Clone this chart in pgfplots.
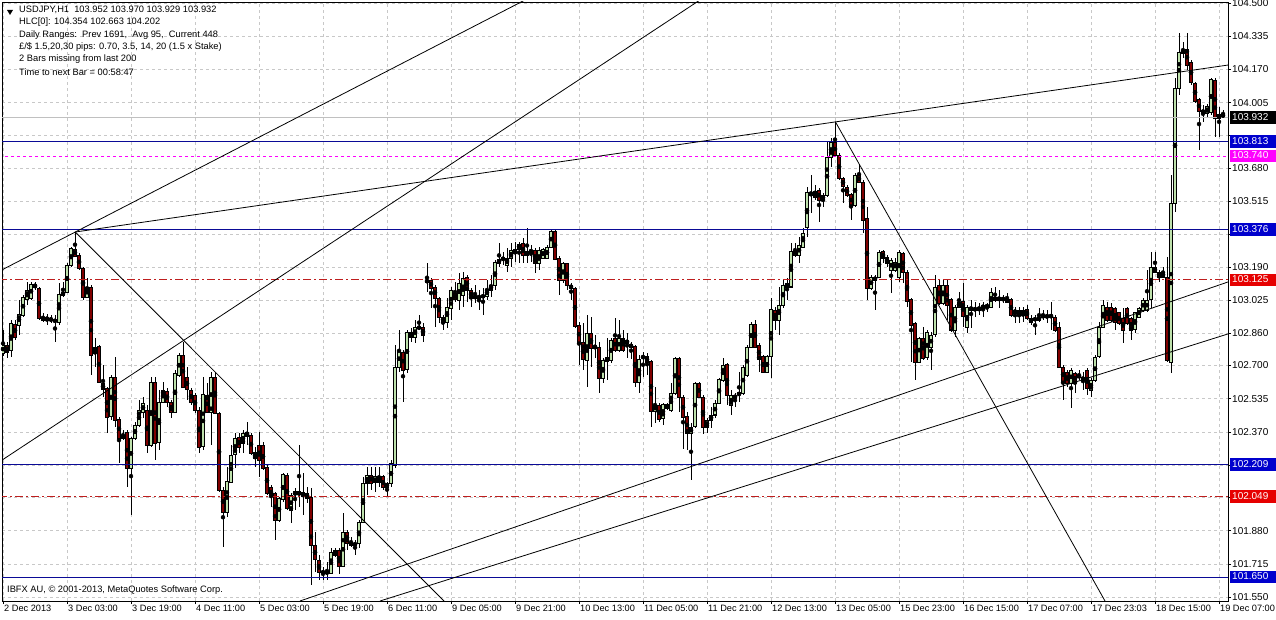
\documentclass[border=0pt]{standalone}
\usepackage{pgfplots}
\usepackage{pgfplotstable}
\pgfplotsset{compat=1.18}
\usepackage{fontspec}
\setmainfont{Liberation Sans}
\definecolor{upc}{RGB}{190,225,172}
\definecolor{dnc}{RGB}{128,0,0}
\definecolor{navyl}{RGB}{10,10,150}
\definecolor{boxblue}{RGB}{0,0,205}
\definecolor{boxred}{RGB}{230,0,0}
\definecolor{magl}{RGB}{255,0,255}
\definecolor{redl}{RGB}{190,30,30}
\definecolor{gridc}{RGB}{200,200,200}
\definecolor{bidc}{RGB}{192,192,192}

\pgfplotstableread{
i o h l c
0 102.762 102.877 102.747 102.802
1 102.802 102.817 102.738 102.767
2 102.777 102.926 102.743 102.911
3 102.906 102.926 102.827 102.842
4 102.901 103.026 102.852 102.956
5 102.951 103.050 102.941 103.040
6 103.026 103.115 103.001 103.075
7 103.035 103.115 103.026 103.105
8 103.105 103.115 103.075 103.090
9 103.085 103.090 102.926 102.936
10 102.941 102.961 102.916 102.926
11 102.926 102.956 102.901 102.941
12 102.931 102.951 102.911 102.926
13 102.921 102.951 102.817 102.926
14 102.916 103.110 102.901 103.055
15 103.050 103.115 103.040 103.065
16 103.065 103.209 103.060 103.199
17 103.199 103.289 103.189 103.284
18 103.279 103.363 103.239 103.244
19 103.244 103.259 103.174 103.184
20 103.184 103.189 103.026 103.040
21 103.040 103.135 103.035 103.090
22 103.090 103.100 102.653 102.752
23 102.762 102.837 102.693 102.792
24 102.797 102.802 102.613 102.618
25 102.613 102.703 102.544 102.579
26 102.589 102.594 102.365 102.445
27 102.445 102.653 102.430 102.643
28 102.643 102.743 102.395 102.430
29 102.435 102.445 102.216 102.340
30 102.355 102.380 102.330 102.340
31 102.370 102.380 102.097 102.191
32 102.191 102.345 101.958 102.340
33 102.340 102.420 102.330 102.405
34 102.405 102.529 102.395 102.479
35 102.469 102.544 102.440 102.514
36 102.479 102.504 102.266 102.306
37 102.306 102.643 102.296 102.618
38 102.618 102.643 102.231 102.316
39 102.316 102.579 102.281 102.519
40 102.519 102.618 102.514 102.579
41 102.574 102.589 102.494 102.519
42 102.519 102.529 102.440 102.469
43 102.469 102.678 102.464 102.663
44 102.653 102.762 102.643 102.752
45 102.752 102.817 102.589 102.594
46 102.643 102.693 102.529 102.579
47 102.579 102.589 102.504 102.519
48 102.554 102.564 102.464 102.479
49 102.479 102.494 102.266 102.296
50 102.296 102.643 102.281 102.554
51 102.554 102.613 102.464 102.469
52 102.469 102.668 102.306 102.643
53 102.643 102.668 102.464 102.464
54 102.464 102.469 102.072 102.082
55 102.082 102.097 101.799 101.968
56 101.968 102.196 101.948 102.122
57 102.122 102.306 102.117 102.256
58 102.256 102.365 102.191 102.340
59 102.345 102.365 102.266 102.296
60 102.316 102.380 102.266 102.365
61 102.370 102.420 102.306 102.350
62 102.355 102.365 102.256 102.266
63 102.241 102.296 102.196 102.271
64 102.306 102.370 102.147 102.231
65 102.306 102.320 102.181 102.191
66 102.196 102.206 102.057 102.067
67 102.097 102.107 101.998 102.048
68 102.067 102.072 101.834 101.933
69 101.933 102.048 101.923 102.043
70 102.033 102.167 102.023 102.157
71 102.157 102.167 101.983 101.993
72 101.983 102.067 101.918 102.057
73 102.057 102.092 101.983 102.072
74 102.057 102.306 101.998 102.072
75 102.072 102.167 101.958 102.048
76 102.067 102.097 102.018 102.043
77 102.043 102.092 101.611 101.809
78 101.809 101.874 101.675 101.735
79 101.735 101.759 101.635 101.675
80 101.680 101.700 101.635 101.670
81 101.670 101.725 101.635 101.675
82 101.670 101.794 101.670 101.774
83 101.759 101.794 101.750 101.784
84 101.784 101.794 101.665 101.705
85 101.705 101.968 101.700 101.874
86 101.874 101.884 101.784 101.819
87 101.824 101.849 101.799 101.809
88 101.809 101.834 101.759 101.819
89 101.819 101.933 101.794 101.923
90 101.923 102.147 101.918 102.117
91 102.117 102.196 102.057 102.157
92 102.157 102.196 102.082 102.117
93 102.117 102.196 102.072 102.147
94 102.147 102.196 102.097 102.117
95 102.147 102.157 102.082 102.092
96 102.117 102.122 102.048 102.097
97 102.117 102.231 102.097 102.216
98 102.206 102.802 102.191 102.693
99 102.693 102.877 102.668 102.777
100 102.767 102.777 102.519 102.678
101 102.678 102.877 102.663 102.862
102 102.842 102.887 102.817 102.867
103 102.842 102.926 102.812 102.887
104 102.887 102.951 102.877 102.891
105 102.891 102.911 102.817 102.852
106 103.125 103.209 103.065 103.115
107 103.125 103.135 102.986 103.085
108 103.090 103.100 102.891 103.035
109 103.035 103.040 102.911 102.941
110 102.941 102.951 102.877 102.916
111 102.916 103.035 102.887 102.991
112 102.986 103.090 102.926 103.075
113 103.060 103.115 103.016 103.026
114 103.026 103.159 102.976 103.110
115 103.050 103.164 102.991 103.135
116 103.140 103.150 103.016 103.075
117 103.075 103.085 102.991 103.035
118 103.045 103.100 103.011 103.035
119 103.035 103.075 102.976 103.045
120 103.040 103.085 102.951 103.050
121 103.045 103.125 103.026 103.080
122 103.075 103.150 103.040 103.100
123 103.100 103.224 103.075 103.214
124 103.209 103.308 103.189 103.229
125 103.229 103.264 103.199 103.234
126 103.199 103.284 103.164 103.234
127 103.234 103.308 103.189 103.274
128 103.259 103.313 103.214 103.279
129 103.279 103.313 103.209 103.303
130 103.308 103.333 103.209 103.249
131 103.249 103.383 103.209 103.269
132 103.274 103.298 103.214 103.264
133 103.274 103.284 103.159 103.209
134 103.209 103.289 103.174 103.274
135 103.234 103.284 103.229 103.279
136 103.234 103.298 103.229 103.289
137 103.289 103.373 103.284 103.368
138 103.368 103.378 103.224 103.229
139 103.234 103.244 103.050 103.125
140 103.125 103.214 103.110 103.209
141 103.209 103.209 103.075 103.100
142 103.100 103.110 103.026 103.085
143 103.085 103.090 102.887 102.896
144 102.901 102.916 102.703 102.812
145 102.812 102.911 102.678 102.728
146 102.728 102.951 102.594 102.862
147 102.862 102.941 102.693 102.787
148 102.797 102.852 102.738 102.787
149 102.792 102.817 102.564 102.638
150 102.638 102.738 102.613 102.728
151 102.723 102.837 102.628 102.738
152 102.728 102.837 102.713 102.827
153 102.837 102.936 102.767 102.777
154 102.777 102.926 102.767 102.837
155 102.837 102.877 102.767 102.777
156 102.812 102.862 102.738 102.827
157 102.807 102.817 102.733 102.792
158 102.797 102.802 102.594 102.618
159 102.618 102.752 102.564 102.733
160 102.738 102.767 102.643 102.747
161 102.747 102.762 102.653 102.713
162 102.718 102.728 102.395 102.474
163 102.474 102.594 102.415 102.504
164 102.504 102.514 102.420 102.435
165 102.435 102.514 102.405 102.509
166 102.509 102.514 102.479 102.489
167 102.479 102.613 102.469 102.564
168 102.564 102.743 102.554 102.738
169 102.738 102.743 102.469 102.544
170 102.544 102.554 102.286 102.445
171 102.445 102.469 102.281 102.365
172 102.365 102.415 102.132 102.395
173 102.395 102.618 102.390 102.613
174 102.613 102.618 102.539 102.544
175 102.544 102.554 102.360 102.395
176 102.395 102.440 102.365 102.430
177 102.430 102.494 102.390 102.455
178 102.455 102.529 102.440 102.514
179 102.514 102.638 102.514 102.633
180 102.628 102.738 102.618 102.703
181 102.703 102.713 102.504 102.549
182 102.504 102.579 102.455 102.554
183 102.539 102.564 102.494 102.554
184 102.554 102.668 102.519 102.564
185 102.564 102.703 102.554 102.693
186 102.653 102.802 102.643 102.792
187 102.792 102.916 102.787 102.906
188 102.906 102.926 102.787 102.792
189 102.802 102.812 102.668 102.728
190 102.743 102.752 102.663 102.668
191 102.668 102.752 102.663 102.743
192 102.743 103.035 102.638 102.976
193 102.976 102.991 102.877 102.926
194 102.926 103.090 102.852 103.001
195 103.001 103.125 102.986 103.100
196 103.110 103.135 103.026 103.090
197 103.090 103.308 103.085 103.264
198 103.249 103.308 103.239 103.274
199 103.249 103.338 103.209 103.298
200 103.289 103.383 103.284 103.358
201 103.383 103.587 103.338 103.557
202 103.547 103.646 103.457 103.562
203 103.567 103.597 103.522 103.537
204 103.572 103.582 103.413 103.522
205 103.522 103.557 103.487 103.547
206 103.547 103.810 103.537 103.736
207 103.736 103.830 103.686 103.810
208 103.805 103.909 103.736 103.745
209 103.745 103.755 103.621 103.631
210 103.631 103.636 103.507 103.587
211 103.587 103.597 103.537 103.547
212 103.547 103.557 103.423 103.497
213 103.497 103.656 103.487 103.646
214 103.646 103.696 103.606 103.611
215 103.611 103.621 103.358 103.423
216 103.433 103.487 103.026 103.085
217 103.085 103.150 103.075 103.140
218 103.125 103.150 102.976 103.140
219 103.140 103.274 103.135 103.264
220 103.264 103.274 103.209 103.234
221 103.239 103.249 103.189 103.209
222 103.174 103.234 103.060 103.224
223 103.174 103.234 103.164 103.214
224 103.135 103.274 103.115 103.259
225 103.259 103.264 103.110 103.164
226 103.164 103.174 102.991 103.016
227 103.026 103.035 102.718 102.901
228 102.911 102.916 102.628 102.718
229 102.718 102.842 102.713 102.837
230 102.837 102.891 102.728 102.738
231 102.738 102.877 102.728 102.862
232 102.792 102.867 102.678 102.852
233 102.852 103.150 102.842 103.090
234 103.100 103.125 103.001 103.011
235 103.011 103.125 103.001 103.100
236 103.100 103.125 102.926 103.001
237 103.026 103.035 102.867 102.877
238 102.877 103.001 102.842 102.991
239 102.991 103.065 102.986 103.016
240 103.016 103.110 102.891 102.941
241 102.891 103.001 102.862 102.991
242 102.991 103.026 102.887 102.976
243 102.976 103.016 102.941 102.986
244 102.976 103.011 102.951 102.991
245 102.986 103.016 102.941 103.001
246 102.991 103.011 102.966 103.001
247 102.991 103.085 102.986 103.065
248 103.040 103.090 103.016 103.026
249 103.026 103.075 102.986 103.040
250 103.035 103.050 103.011 103.026
251 103.016 103.060 103.011 103.035
252 103.026 103.035 102.941 102.951
253 102.976 102.991 102.911 102.961
254 102.976 102.991 102.911 102.951
255 102.976 102.991 102.916 102.951
256 102.976 103.001 102.926 102.936
257 102.936 102.951 102.901 102.916
258 102.926 102.951 102.852 102.936
259 102.926 102.986 102.916 102.941
260 102.941 102.976 102.926 102.951
261 102.951 102.976 102.911 102.941
262 102.951 103.016 102.877 102.941
263 102.941 102.951 102.867 102.877
264 102.891 102.916 102.688 102.693
265 102.693 102.703 102.529 102.618
266 102.668 102.678 102.594 102.613
267 102.613 102.688 102.489 102.678
268 102.663 102.668 102.564 102.613
269 102.643 102.678 102.628 102.653
270 102.643 102.668 102.579 102.628
271 102.678 102.688 102.554 102.589
272 102.579 102.638 102.544 102.628
273 102.628 102.752 102.618 102.743
274 102.743 102.916 102.738 102.891
275 102.891 103.026 102.887 103.001
276 102.991 103.016 102.916 102.926
277 102.991 103.011 102.916 102.926
278 102.986 102.991 102.877 102.916
279 102.961 102.966 102.901 102.911
280 102.936 102.986 102.812 102.877
281 102.986 102.991 102.901 102.911
282 102.936 102.941 102.827 102.877
283 102.877 102.966 102.862 102.961
284 102.941 102.991 102.936 102.986
285 102.976 103.035 102.966 103.026
286 102.976 103.174 102.966 103.026
287 103.026 103.264 102.986 103.189
288 103.189 103.264 103.159 103.164
289 103.164 103.174 103.115 103.140
290 103.164 103.189 103.135 103.140
291 103.140 103.239 102.718 102.728
292 102.713 103.646 102.663 103.507
293 103.507 104.128 103.462 104.078
294 104.078 104.351 104.043 104.257
295 104.252 104.306 104.227 104.267
296 104.272 104.354 104.167 104.192
297 104.207 104.217 104.093 104.103
298 104.103 104.108 104.004 104.014
299 104.019 104.029 103.770 103.959
300 103.954 103.994 103.909 103.969
301 103.954 103.999 103.934 103.989
302 103.954 104.128 103.944 104.118
303 104.118 104.128 103.835 103.929
304 103.929 103.984 103.835 103.949
305 103.952 103.970 103.929 103.932
}\candles

\begin{document}
\begin{tikzpicture}[x=1pt,y=1pt]
\begin{axis}[
  scale only axis, width=1226pt, height=599pt,
  xmin=-0.25, xmax=306.25, ymin=101.531, ymax=104.505,
  axis line style={black, line width=0.8pt},
  xtick={0,16,...,304},
  xticklabels={2 Dec 2013,3 Dec 03:00,3 Dec 19:00,4 Dec 11:00,5 Dec 03:00,5 Dec 19:00,6 Dec 11:00,9 Dec 05:00,9 Dec 21:00,10 Dec 13:00,11 Dec 05:00,11 Dec 21:00,12 Dec 13:00,13 Dec 05:00,15 Dec 23:00,16 Dec 15:00,17 Dec 07:00,17 Dec 23:03,18 Dec 15:00,19 Dec 07:00},
  ytick={101.550,101.715,101.880,102.045,102.205,102.370,102.535,102.700,102.860,103.025,103.190,103.350,103.515,103.680,103.845,104.005,104.170,104.335,104.500},
  yticklabels={101.550,101.715,101.880,,,102.370,102.535,102.700,102.860,103.025,103.190,,103.515,103.680,,104.005,104.170,104.335,104.500},
  ytick pos=right, yticklabel pos=right, xtick pos=bottom,
  tick align=outside, major tick length=3pt,
  tick style={black, line width=0.6pt},
  grid=major, major grid style={gridc, dash pattern=on 3pt off 3pt, line width=0.6pt},
  xticklabel style={font=\fontsize{9.2}{10}\selectfont, anchor=north west, inner sep=1pt},
  yticklabel style={font=\fontsize{10}{11}\selectfont, anchor=west, inner sep=1pt},
]
% candles: wicks
\addplot[only marks, mark=none, error bars/.cd, y dir=both, y explicit, error mark=none,
  error bar style={draw=black, solid, line width=1pt}]
  table[x=i, y expr={(\thisrow{h}+\thisrow{l})/2}, y error expr={(\thisrow{h}-\thisrow{l})/2}] {\candles};
% body outline
\addplot[only marks, mark=none, error bars/.cd, y dir=both, y explicit, error mark=none,
  error bar style={draw=black, solid, line width=3.4pt}]
  table[x=i, y expr={(\thisrow{o}+\thisrow{c})/2}, y error expr={abs(\thisrow{o}-\thisrow{c})/2+0.0025}] {\candles};
% up bodies
\addplot[only marks, mark=none, error bars/.cd, y dir=both, y explicit, error mark=none,
  error bar style={draw=upc, solid, line width=1.8pt}]
  table[x expr={\thisrow{i}+1000*(\thisrow{c}<\thisrow{o})}, y expr={(\thisrow{o}+\thisrow{c})/2}, y error expr={max(abs(\thisrow{o}-\thisrow{c})/2-0.0025,0)}] {\candles};
% down bodies
\addplot[only marks, mark=none, error bars/.cd, y dir=both, y explicit, error mark=none,
  error bar style={draw=dnc, solid, line width=1.8pt}]
  table[x expr={\thisrow{i}+1000*(\thisrow{c}>\thisrow{o})}, y expr={(\thisrow{o}+\thisrow{c})/2}, y error expr={max(abs(\thisrow{o}-\thisrow{c})/2-0.0025,0)}] {\candles};

% horizontal levels
\addplot[bidc, line width=0.8pt] coordinates {(-1,103.932) (310,103.932)};
\addplot[navyl, line width=1pt] coordinates {(-1,103.813) (310,103.813)};
\addplot[magl, line width=0.8pt, dash pattern=on 3pt off 3pt] coordinates {(-1,103.740) (310,103.740)};
\addplot[navyl, line width=1pt] coordinates {(-1,103.376) (310,103.376)};
\addplot[redl, line width=1pt, dash pattern=on 8pt off 3pt on 2pt off 3pt] coordinates {(-1,103.125) (310,103.125)};
\addplot[navyl, line width=1pt] coordinates {(-1,102.209) (310,102.209)};
\addplot[redl, line width=1pt, dash pattern=on 8pt off 3pt on 2pt off 3pt] coordinates {(-1,102.049) (310,102.049)};
\addplot[navyl, line width=1pt] coordinates {(-1,101.650) (310,101.650)};

% trend lines
\addplot[black, line width=0.8pt] coordinates {(-0.75,103.170) (130.5,104.515)};
\addplot[black, line width=0.8pt] coordinates {(-0.75,102.224) (174.25,104.515)};
\addplot[black, line width=0.8pt] coordinates {(18.07,103.363) (306.25,104.192)};
\addplot[black, line width=0.8pt] coordinates {(18.07,103.363) (110.25,101.531)};
\addplot[black, line width=0.8pt] coordinates {(208.08,103.911) (275.5,101.531)};
\addplot[black, line width=0.8pt] coordinates {(74.25,101.531) (306.25,103.115)};
\addplot[black, line width=0.8pt] coordinates {(94.25,101.531) (306.25,102.857)};

\coordinate (b1) at (axis cs:306.25,103.932);
\coordinate (b2) at (axis cs:306.25,103.813);
\coordinate (b3) at (axis cs:306.25,103.740);
\coordinate (b4) at (axis cs:306.25,103.376);
\coordinate (b5) at (axis cs:306.25,103.125);
\coordinate (b6) at (axis cs:306.25,102.209);
\coordinate (b7) at (axis cs:306.25,102.049);
\coordinate (b8) at (axis cs:306.25,101.650);
\end{axis}

% price boxes
\tikzset{pbox/.style={anchor=west, xshift=2pt, text=white, inner xsep=2pt, inner ysep=0pt,
  text width=42pt, align=left, text height=7.5pt, text depth=2pt, minimum height=12.5pt,
  font=\fontsize{10}{11}\selectfont}}
\node[pbox, fill=black] at (b1) {103.932};
\node[pbox, fill=boxblue] at (b2) {103.813};
\node[pbox, fill=magl] at (b3) {103.740};
\node[pbox, fill=boxblue] at (b4) {103.376};
\node[pbox, fill=boxred] at (b5) {103.125};
\node[pbox, fill=boxblue] at (b6) {102.209};
\node[pbox, fill=boxred] at (b7) {102.049};
\node[pbox, fill=boxblue] at (b8) {101.650};

% header text
\fill[black] (5,591) -- (11,591) -- (8,586) -- cycle;
\begin{scope}[every node/.style={anchor=west, inner sep=0pt, font=\fontsize{9.3}{10}\selectfont}]
\node at (17,591) {USDJPY,H1\ \ 103.952 103.970 103.929 103.932};
\node at (17,578.5) {HLC[0]: 104.354 102.663 104.202};
\node at (17,566) {Daily Ranges:\ \ Prev 1691,\ \ Avg 95,\ \ Current 448};
\node at (17,554) {£/\$ 1.5,20,30 pips: 0.70, 3.5, 14, 20 (1.5 x Stake)};
\node at (17,541.5) {2 Bars missing from last 200};
\node at (17,529) {Time to next Bar = 00:58:47};
\node at (5,11) {IBFX AU, © 2001-2013, MetaQuotes Software Corp.};
\end{scope}

\pgfresetboundingbox
\useasboundingbox (-2,-18) rectangle (1274,601);
\end{tikzpicture}
\end{document}
